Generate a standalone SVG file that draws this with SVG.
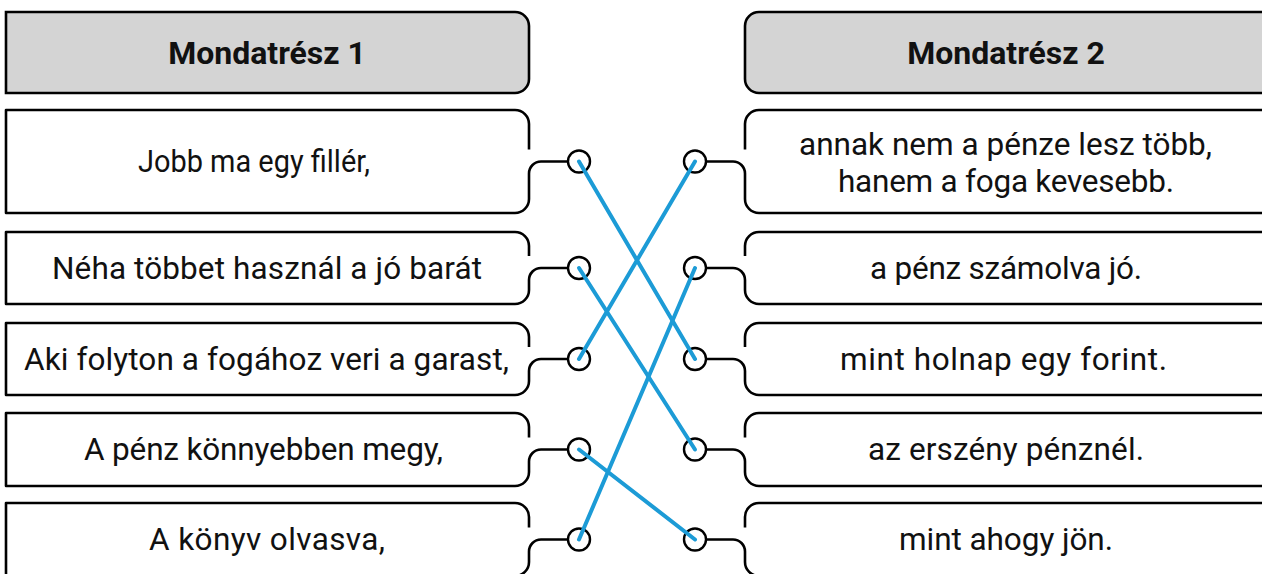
<svg xmlns="http://www.w3.org/2000/svg" width="1262" height="574" viewBox="0 0 1262 574">
<style>
.hdr{fill:#d4d4d4;stroke:#000;stroke-width:2.6}
.box{fill:none;stroke:#000;stroke-width:2.6;stroke-linejoin:round}
.pin{fill:#fff;stroke:#000;stroke-width:2.4}
.link{stroke:#1c9bd6;stroke-width:4;stroke-linecap:round;fill:none}
.t{font-family:Roboto,"Liberation Sans",sans-serif;font-size:31.5px;fill:#111;text-anchor:middle}
.h{font-family:Roboto,"Liberation Sans",sans-serif;font-size:32px;font-weight:bold;fill:#111;text-anchor:middle}
</style>
<rect width="1262" height="574" fill="#fff"/>
<g id="header-left">
<path class="hdr" d="M6,12 H515 A14,14 0 0 1 529,26 V79 A14,14 0 0 1 515,93 H6 Z"/>
<text class="h" x="267" y="64">Mondatrész 1</text>
</g>
<g id="header-right">
<path class="hdr" d="M1268,12 H759 A14,14 0 0 0 745,26 V79 A14,14 0 0 0 759,93 H1268 Z"/>
<text class="h" x="1006" y="64">Mondatrész 2</text>
</g>
<g id="left-1">
<path class="box" d="M529,149.5 V124 A14,14 0 0 0 515,110 H6 V213 H515 A14,14 0 0 0 529,199 V173.5 A12,12 0 0 1 541,161.5 H568"/>
<circle class="pin" cx="579" cy="161.5" r="11"/>
<text class="t" x="254" y="172" textLength="232" lengthAdjust="spacingAndGlyphs">Jobb ma egy fillér,</text>
</g>
<g id="left-2">
<path class="box" d="M529,256 V246 A14,14 0 0 0 515,232 H6 V304 H515 A14,14 0 0 0 529,290 V280 A12,12 0 0 1 541,268 H568"/>
<circle class="pin" cx="579" cy="268" r="11"/>
<text class="t" x="267" y="278.5" textLength="430" lengthAdjust="spacing">Néha többet használ a jó barát</text>
</g>
<g id="left-3">
<path class="box" d="M529,347 V337 A14,14 0 0 0 515,323 H6 V395 H515 A14,14 0 0 0 529,381 V371 A12,12 0 0 1 541,359 H568"/>
<circle class="pin" cx="579" cy="359" r="11"/>
<text class="t" x="266.5" y="369.5" textLength="485" lengthAdjust="spacing">Aki folyton a fogához veri a garast,</text>
</g>
<g id="left-4">
<path class="box" d="M529,437.5 V427 A14,14 0 0 0 515,413 H6 V486 H515 A14,14 0 0 0 529,472 V461.5 A12,12 0 0 1 541,449.5 H568"/>
<circle class="pin" cx="579" cy="449.5" r="11"/>
<text class="t" x="263.5" y="460" textLength="359" lengthAdjust="spacing">A pénz könnyebben megy,</text>
</g>
<g id="left-5">
<path class="box" d="M529,527.5 V517 A14,14 0 0 0 515,503 H6 V576 H515 A14,14 0 0 0 529,562 V551.5 A12,12 0 0 1 541,539.5 H568"/>
<circle class="pin" cx="579" cy="539.5" r="11"/>
<text class="t" x="267" y="550" textLength="236" lengthAdjust="spacing">A könyv olvasva,</text>
</g>
<g id="right-1">
<path class="box" d="M745,149.5 V124 A14,14 0 0 1 759,110 H1268 V213 H759 A14,14 0 0 1 745,199 V173.5 A12,12 0 0 0 733,161.5 H706"/>
<circle class="pin" cx="695" cy="161.5" r="11"/>
<text class="t" x="1005.5" y="155" textLength="413" lengthAdjust="spacing">annak nem a pénze lesz több,</text>
<text class="t" x="1006" y="192" textLength="336" lengthAdjust="spacing">hanem a foga kevesebb.</text>
</g>
<g id="right-2">
<path class="box" d="M745,256 V246 A14,14 0 0 1 759,232 H1268 V304 H759 A14,14 0 0 1 745,290 V280 A12,12 0 0 0 733,268 H706"/>
<circle class="pin" cx="695" cy="268" r="11"/>
<text class="t" x="1006" y="278.5" textLength="272" lengthAdjust="spacing">a pénz számolva jó.</text>
</g>
<g id="right-3">
<path class="box" d="M745,347 V337 A14,14 0 0 1 759,323 H1268 V395 H759 A14,14 0 0 1 745,381 V371 A12,12 0 0 0 733,359 H706"/>
<circle class="pin" cx="695" cy="359" r="11"/>
<text class="t" x="1003.5" y="369.5" textLength="327" lengthAdjust="spacing">mint holnap egy forint.</text>
</g>
<g id="right-4">
<path class="box" d="M745,437.5 V427 A14,14 0 0 1 759,413 H1268 V486 H759 A14,14 0 0 1 745,472 V461.5 A12,12 0 0 0 733,449.5 H706"/>
<circle class="pin" cx="695" cy="449.5" r="11"/>
<text class="t" x="1006" y="460" textLength="276" lengthAdjust="spacing">az erszény pénznél.</text>
</g>
<g id="right-5">
<path class="box" d="M745,527.5 V517 A14,14 0 0 1 759,503 H1268 V576 H759 A14,14 0 0 1 745,562 V551.5 A12,12 0 0 0 733,539.5 H706"/>
<circle class="pin" cx="695" cy="539.5" r="11"/>
<text class="t" x="1006" y="550" textLength="214" lengthAdjust="spacing">mint ahogy jön.</text>
</g>
<g id="connectors">
<line class="link" x1="579" y1="161.5" x2="695" y2="359"/>
<line class="link" x1="579" y1="268" x2="695" y2="449.5"/>
<line class="link" x1="579" y1="359" x2="695" y2="161.5"/>
<line class="link" x1="579" y1="449.5" x2="695" y2="539.5"/>
<line class="link" x1="579" y1="539.5" x2="695" y2="268"/>
</g>
</svg>
